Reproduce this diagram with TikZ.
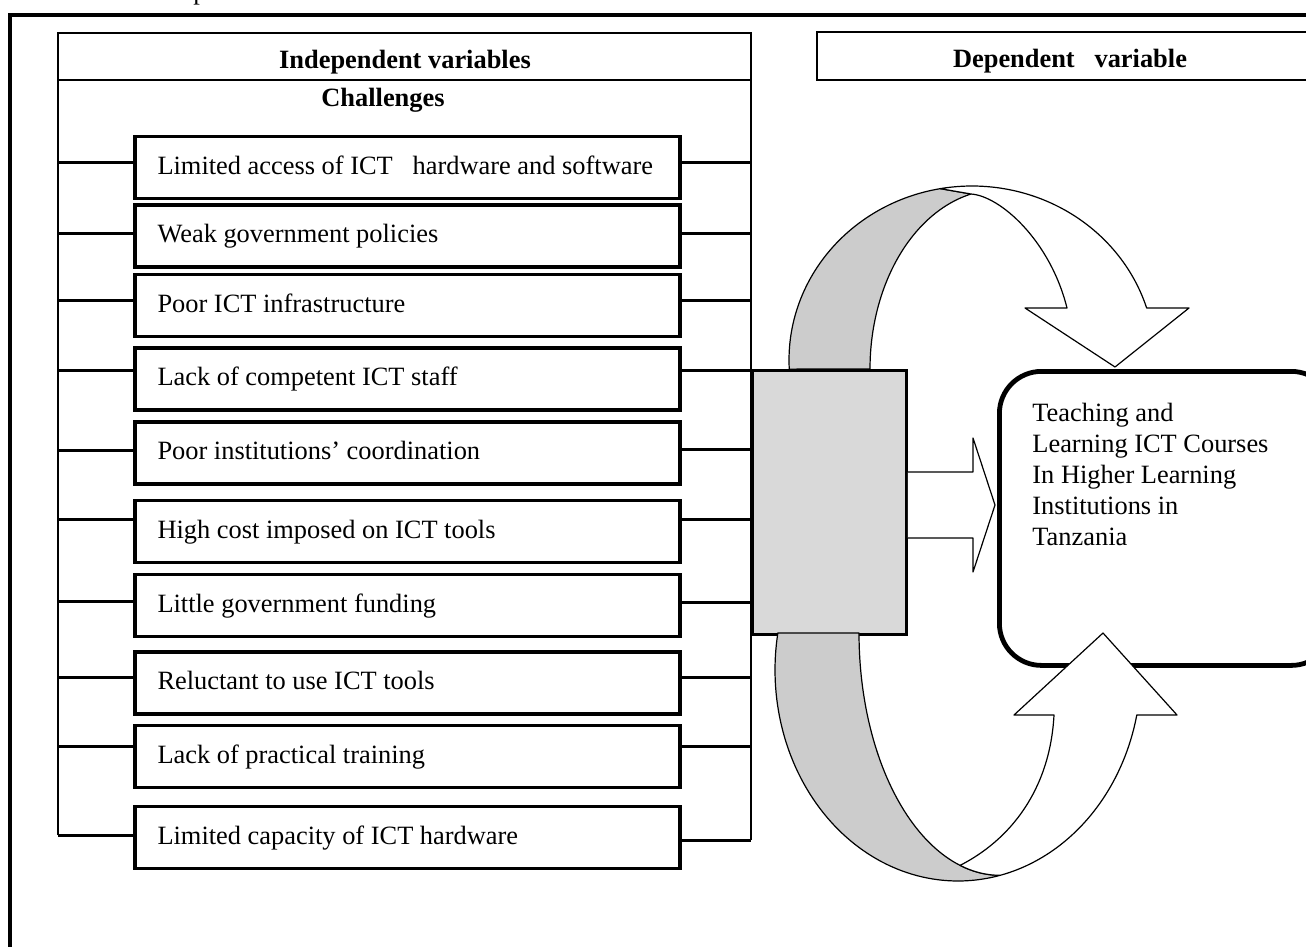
\documentclass[tikz,border=0pt]{standalone}
\usepackage{fontspec}
\setmainfont{Liberation Serif}
\definecolor{bandgray}{HTML}{CCCCCC}
\definecolor{hubgray}{HTML}{D9D9D9}
\tikzset{
  txt/.style={font=\fontsize{13.2}{15.5}\selectfont},
  hdr/.style={font=\fontsize{13.2}{15.5}\selectfont\bfseries, inner sep=0pt, anchor=base},
  itembox/.style={draw, line width=1.6pt, fill=white, minimum width=272.5pt, minimum height=31pt,
    inner xsep=11pt, inner ysep=0pt,
    font=\fontsize{13.2}{15.5}\selectfont, text height=9.5pt, text depth=3pt},
  wire/.style={line width=1.5pt},
  outerframe/.style={line width=2pt},
  hline/.style={line width=1.3pt},
  fold/.style={line width=0.6pt, line join=round},
  band/.style={fold, fill=bandgray},
  front/.style={fold, fill=white},
}
\begin{document}
\begin{tikzpicture}[x=0.5pt, y=-0.5pt]
\useasboundingbox (0,0) rectangle (1306,947);
\clip (0,0) rectangle (1306,947);
\fill[white] (0,0) rectangle (1306,947);

% clipped fragment of a line above the frame
\node[txt, anchor=base west, inner sep=0pt] (frag) at (193,0) {p};

% outer frame
\draw[outerframe] (10,960) -- (10,15) -- (1320,15);

% independent variables block
\draw[hline] (58,835) -- (58,33) -- (751,33) -- (751,840);
\draw[line width=0.9pt] (58,80) -- (751,80);
\node[hdr] (indep) at (405,69) {Independent variables};
\node[hdr] (chal) at (383,107) {Challenges};

% dependent variable header
\draw[line width=1pt] (1320,32) -- (817,32) -- (817,80) -- (1320,80);
\node[hdr] (dephd) at (1070,68) {Dependent~~~variable};

% challenge boxes and bracket connectors
\foreach \i/\yc/\yl/\yr/\t in {
  1/167.5/162/162/{Limited access of ICT~~~hardware and software},
  2/236/233/233/{Weak government policies},
  3/305.5/300/300/{Poor ICT infrastructure},
  4/379/370/370/{Lack of competent ICT staff},
  5/453/450/449/{Poor institutions’ coordination},
  6/531.5/519/519/{High cost imposed on ICT tools},
  7/605.5/601/602/{Little government funding},
  8/683/677/677/{Reluctant to use ICT tools},
  9/756.5/746/746/{Lack of practical training},
  10/837.5/835/840/{Limited capacity of ICT hardware}} {
  \node[itembox] (b\i) at (407.5,\yc) {\makebox[250pt][l]{\t}};
  \coordinate (L\i) at (58,\yl);
  \coordinate (R\i) at (751,\yr);
  \draw[wire] (L\i) -- (L\i -| b\i.west);
  \draw[wire] (b\i.east |- R\i) -- (R\i);
}

% upper curved arrow (down-pointing)
\filldraw[band]
  plot[domain=177:260, samples=60] ({972+183*cos(\x)},{360+174*sin(\x)})
  -- (971,194)
  -- plot[domain=257.1:180, samples=60] ({1000+130*cos(\x)},{369+179.5*sin(\x)})
  -- cycle;
\filldraw[front]
  plot[domain=260:342.6, samples=70] ({972+183*cos(\x)},{360+174*sin(\x)})
  -- (1189,308) -- (1115,367) -- (1025,308) -- (1067,308)
  .. controls (1050,240) and (1000,196) .. (971,194)
  -- cycle;

% grey hub
\node[draw, line width=1.4pt, fill=hubgray, minimum width=77pt, minimum height=132pt,
      anchor=north west, inner sep=0pt] (hub) at (751,369) {};

% right block arrow
\coordinate (ra1) at (973,472);
\coordinate (ra2) at (973,538);
\filldraw[front] (hub.east |- ra1) -- (ra1) -- (973,438) -- (995,505) -- (973,572) -- (ra2) -- (hub.east |- ra2);

% dependent variable box
\node[draw, line width=2.4pt, fill=white, rounded corners=21pt, minimum width=167pt,
      minimum height=147pt, anchor=north west, inner sep=0pt] (dep) at (997,369) {};
\node[txt, anchor=north west, inner sep=0pt, align=left] (deptxt) at (1032,403)
  {Teaching and\\Learning ICT Courses\\In Higher Learning\\Institutions in\\Tanzania};

% lower curved arrow (up-pointing)
\filldraw[band]
  plot[domain=190.1:76.7, samples=70] ({958+183*cos(\x)},{670+211*sin(\x)})
  -- plot[domain=90:180, samples=60] ({1000+141*cos(\x)},{633+242.3*sin(\x)})
  -- cycle;
\filldraw[front]
  plot[domain=76.7:12.3, samples=60] ({958+183*cos(\x)},{670+211*sin(\x)})
  -- (1177,715) -- (1103,633) -- (1014,715) -- (1054,715)
  .. controls (1050,790) and (1010,840) .. (960,865.4)
  -- plot[domain=106.5:90, samples=20] ({1000+141*cos(\x)},{633+242.3*sin(\x)})
  -- cycle;
\end{tikzpicture}
\end{document}
